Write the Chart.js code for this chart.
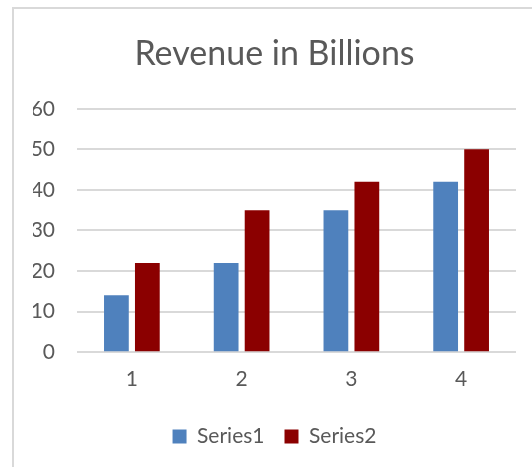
<!DOCTYPE html>
<html lang="en">
<head>
    <meta charset="UTF-8">
    <title>Revenue in Billions</title>
    <script src="https://cdn.jsdelivr.net/npm/chart.js"></script>
    <style>
        html, body { margin: 0; padding: 0; background: #fff; }
        #wrap { position: relative; width: 532px; height: 467px; overflow: hidden; }
        #frame { position: absolute; left: 12px; top: 7px; width: 600px; height: 600px; border: 2px solid #d9d9d9; box-sizing: border-box; }
        canvas { position: absolute; left: 0; top: 0; }
    </style>
</head>
<body>
    <div id="wrap">
        <div id="frame"></div>
        <canvas id="revenueChart" width="532" height="467"></canvas>
    </div>

    <script>
        // data
        let categories = ["1", "2", "3", "4"];
        let series1 = [14, 22, 35, 42];
        let series2 = [22, 35, 42, 50];

        let textColor = "#595959";
        let fontFamily = "Lato, 'Open Sans', sans-serif";

        let ctx = document.getElementById("revenueChart").getContext("2d");

        let chart = new Chart(ctx, {
            type: "bar",
            data: {
                labels: categories,
                datasets: [{
                    label: "Series1",
                    data: series1,
                    backgroundColor: "#4f81bd",
                    categoryPercentage: 0.564,
                    barPercentage: 0.8
                }, {
                    label: "Series2",
                    data: series2,
                    backgroundColor: "#8b0000",
                    categoryPercentage: 0.564,
                    barPercentage: 0.8
                }]
            },
            options: {
                responsive: false,
                animation: false,
                layout: {
                    // the original frame runs past the right edge, so centre title/legend a bit right
                    padding: { left: 33, right: 16, top: 0, bottom: 10 }
                },
                plugins: {
                    title: {
                        display: true,
                        text: "Revenue in Billions",
                        color: textColor,
                        font: { family: fontFamily, size: 34, weight: "normal" },
                        padding: { top: 34, bottom: 34 }
                    },
                    legend: {
                        position: "bottom",
                        labels: {
                            color: textColor,
                            font: { family: fontFamily, size: 21 },
                            boxWidth: 14,
                            boxHeight: 14,
                            padding: 20
                        }
                    },
                    tooltip: { enabled: false }
                },
                scales: {
                    x: {
                        grid: { display: false, drawTicks: false },
                        border: { display: false },
                        ticks: {
                            color: textColor,
                            font: { family: fontFamily, size: 21, lineHeight: 0.85 },
                            padding: 18
                        }
                    },
                    y: {
                        min: 0,
                        max: 60,
                        ticks: {
                            stepSize: 10,
                            color: textColor,
                            font: { family: fontFamily, size: 21 },
                            padding: 22
                        },
                        grid: { color: "#d9d9d9", lineWidth: 2, drawTicks: false },
                        border: { display: false },
                        afterFit: function (scale) {
                            scale.width = 44; // plot starts at x=77
                        }
                    }
                }
            }
        });
    </script>
</body>
</html>
